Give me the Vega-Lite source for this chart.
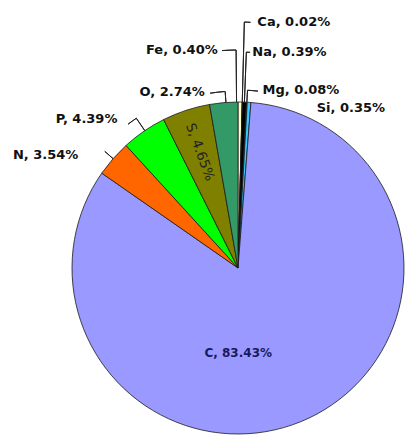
{
  "$schema": "https://vega.github.io/schema/vega-lite/v6.json",
  "width": 332,
  "height": 332,
  "autosize": "none",
  "padding": {"left": 72, "top": 102, "right": 1, "bottom": 3},
  "background": "white",
  "config": {"view": {"stroke": null}},
  "data": {
    "values": [
      {"el": "Fe", "pct": 0.40, "label": "Fe, 0.40%", "k": 1},
      {"el": "Ca", "pct": 0.02, "label": "Ca, 0.02%", "k": 2},
      {"el": "Na", "pct": 0.39, "label": "Na, 0.39%", "k": 3},
      {"el": "Mg", "pct": 0.08, "label": "Mg, 0.08%", "k": 4},
      {"el": "Si", "pct": 0.35, "label": "Si, 0.35%", "k": 5},
      {"el": "C", "pct": 83.43, "label": "C, 83.43%", "k": 6},
      {"el": "N", "pct": 3.54, "label": "N, 3.54%", "k": 7},
      {"el": "P", "pct": 4.39, "label": "P, 4.39%", "k": 8},
      {"el": "S", "pct": 4.65, "label": "S, 4.65%", "k": 9},
      {"el": "O", "pct": 2.74, "label": "O, 2.74%", "k": 10}
    ]
  },
  "layer": [
    {
      "mark": {"type": "arc", "stroke": "#1a1a1a", "strokeWidth": 0.8},
      "encoding": {
        "theta": {"field": "pct", "type": "quantitative", "stack": true},
        "order": {"field": "k", "type": "quantitative"},
        "color": {
          "field": "el",
          "type": "nominal",
          "legend": null,
          "scale": {
            "domain": ["Fe", "Ca", "Na", "Mg", "Si", "C", "N", "P", "S", "O"],
            "range": ["#ffffcc", "#ff6600", "#000000", "#660066", "#33ccff", "#9999ff", "#ff6600", "#00ff00", "#808000", "#339966"]
          }
        }
      }
    },
    {
      "transform": [{"stack": "pct", "groupby": [], "sort": [{"field": "k", "order": "ascending"}], "as": ["a0", "a1"]}],
      "layer": [
        {"mark": {"type": "arc", "fillOpacity": 0, "stroke": "#222", "strokeWidth": 1, "radius": 246, "radius2": 166, "thetaOffset": 0.00063, "theta2Offset": -0.00063},
         "encoding": {"strokeOpacity": {"condition": {"test": "datum.el == 'Ca'", "value": 1}, "value": 0}}},
        {"mark": {"type": "arc", "fillOpacity": 0, "stroke": "#222", "strokeWidth": 1, "radius": 246, "radius2": 246, "thetaOffset": 0.00063, "theta2Offset": 0.02423},
         "encoding": {"strokeOpacity": {"condition": {"test": "datum.el == 'Ca'", "value": 1}, "value": 0}}},
        {"mark": {"type": "arc", "fillOpacity": 0, "stroke": "#222", "strokeWidth": 1, "radius": 216, "radius2": 166, "thetaOffset": 0.01225, "theta2Offset": -0.01225},
         "encoding": {"strokeOpacity": {"condition": {"test": "datum.el == 'Na'", "value": 1}, "value": 0}}},
        {"mark": {"type": "arc", "fillOpacity": 0, "stroke": "#222", "strokeWidth": 1, "radius": 216, "radius2": 216, "thetaOffset": 0.01225, "theta2Offset": 0.00496},
         "encoding": {"strokeOpacity": {"condition": {"test": "datum.el == 'Na'", "value": 1}, "value": 0}}},
        {"mark": {"type": "arc", "fillOpacity": 0, "stroke": "#222", "strokeWidth": 1, "radius": 218, "radius2": 166, "thetaOffset": -0.00873, "theta2Offset": -0.03386},
         "encoding": {"strokeOpacity": {"condition": {"test": "datum.el == 'Fe'", "value": 1}, "value": 0}}},
        {"mark": {"type": "arc", "fillOpacity": 0, "stroke": "#222", "strokeWidth": 1, "radius": 218, "radius2": 218, "thetaOffset": -0.0733, "theta2Offset": -0.03386},
         "encoding": {"strokeOpacity": {"condition": {"test": "datum.el == 'Fe'", "value": 1}, "value": 0}}},
        {"mark": {"type": "arc", "fillOpacity": 0, "stroke": "#222", "strokeWidth": 1, "radius": 178, "radius2": 166, "thetaOffset": 0.00251, "theta2Offset": -0.00251},
         "encoding": {"strokeOpacity": {"condition": {"test": "datum.el == 'Mg'", "value": 1}, "value": 0}}},
        {"mark": {"type": "arc", "fillOpacity": 0, "stroke": "#222", "strokeWidth": 1, "radius": 178, "radius2": 178, "thetaOffset": 0.00251, "theta2Offset": 0.05665},
         "encoding": {"strokeOpacity": {"condition": {"test": "datum.el == 'Mg'", "value": 1}, "value": 0}}},
        {"mark": {"type": "arc", "fillOpacity": 0, "stroke": "#222", "strokeWidth": 1, "radius": 177, "radius2": 166, "thetaOffset": 0.09948, "theta2Offset": -0.07268},
         "encoding": {"strokeOpacity": {"condition": {"test": "datum.el == 'O'", "value": 1}, "value": 0}}},
        {"mark": {"type": "arc", "fillOpacity": 0, "stroke": "#222", "strokeWidth": 1, "radius": 177, "radius2": 177, "thetaOffset": 0.01396, "theta2Offset": -0.07268},
         "encoding": {"strokeOpacity": {"condition": {"test": "datum.el == 'O'", "value": 1}, "value": 0}}},
        {"mark": {"type": "arc", "fillOpacity": 0, "stroke": "#222", "strokeWidth": 1, "radius": 181, "radius2": 166, "thetaOffset": 0.14388, "theta2Offset": -0.13195},
         "encoding": {"strokeOpacity": {"condition": {"test": "datum.el == 'P'", "value": 1}, "value": 0}}},
        {"mark": {"type": "arc", "fillOpacity": 0, "stroke": "#222", "strokeWidth": 1, "radius": 181, "radius2": 181, "thetaOffset": 0.08803, "theta2Offset": -0.13195},
         "encoding": {"strokeOpacity": {"condition": {"test": "datum.el == 'P'", "value": 1}, "value": 0}}},
        {"mark": {"type": "arc", "fillOpacity": 0, "stroke": "#222", "strokeWidth": 1, "radius": 177, "radius2": 166, "thetaOffset": 0.1108, "theta2Offset": -0.11143},
         "encoding": {"strokeOpacity": {"condition": {"test": "datum.el == 'N'", "value": 1}, "value": 0}}}
      ],
      "encoding": {
        "theta": {"field": "a0", "type": "quantitative"},
        "theta2": {"field": "a1"}
      }
    },
    {
      "encoding": {
        "theta": {"field": "pct", "type": "quantitative", "stack": true},
        "order": {"field": "k", "type": "quantitative"}
      },
      "layer": [
        {
          "mark": {"type": "text", "radius": 218, "dx": -23, "align": "right", "baseline": "middle", "font": "DejaVu Sans", "fontWeight": "bold", "fontSize": 13, "fill": "#111"},
          "encoding": {"text": {"condition": {"test": "datum.el == 'Fe'", "field": "label"}, "value": ""}}
        },
        {
          "mark": {"type": "text", "radius": 246, "dx": 13, "align": "left", "baseline": "middle", "font": "DejaVu Sans", "fontWeight": "bold", "fontSize": 13, "fill": "#111"},
          "encoding": {"text": {"condition": {"test": "datum.el == 'Ca'", "field": "label"}, "value": ""}}
        },
        {
          "mark": {"type": "text", "radius": 216, "dx": 6, "align": "left", "baseline": "middle", "font": "DejaVu Sans", "fontWeight": "bold", "fontSize": 13, "fill": "#111"},
          "encoding": {"text": {"condition": {"test": "datum.el == 'Na'", "field": "label"}, "value": ""}}
        },
        {
          "mark": {"type": "text", "radius": 178, "dx": 15, "align": "left", "baseline": "middle", "font": "DejaVu Sans", "fontWeight": "bold", "fontSize": 13, "fill": "#111"},
          "encoding": {"text": {"condition": {"test": "datum.el == 'Mg'", "field": "label"}, "value": ""}}
        },
        {
          "mark": {"type": "text", "radius": 160, "dx": 68, "align": "left", "baseline": "middle", "font": "DejaVu Sans", "fontWeight": "bold", "fontSize": 13, "fill": "#111"},
          "encoding": {"text": {"condition": {"test": "datum.el == 'Si'", "field": "label"}, "value": ""}}
        },
        {
          "mark": {"type": "text", "radius": 177, "dx": -18, "align": "right", "baseline": "middle", "font": "DejaVu Sans", "fontWeight": "bold", "fontSize": 13, "fill": "#111"},
          "encoding": {"text": {"condition": {"test": "datum.el == 'O'", "field": "label"}, "value": ""}}
        },
        {
          "mark": {"type": "text", "radius": 181, "dx": -18, "align": "right", "baseline": "middle", "font": "DejaVu Sans", "fontWeight": "bold", "fontSize": 13, "fill": "#111"},
          "encoding": {"text": {"condition": {"test": "datum.el == 'P'", "field": "label"}, "value": ""}}
        },
        {
          "mark": {"type": "text", "radius": 171, "dx": -31, "align": "right", "baseline": "middle", "font": "DejaVu Sans", "fontWeight": "bold", "fontSize": 13, "fill": "#111"},
          "encoding": {"text": {"condition": {"test": "datum.el == 'N'", "field": "label"}, "value": ""}}
        },
        {
          "mark": {"type": "text", "radius": 122, "angle": 70, "align": "center", "baseline": "middle", "font": "DejaVu Sans", "fontWeight": "normal", "fontSize": 13.5, "fill": "#222"},
          "encoding": {"text": {"condition": {"test": "datum.el == 'S'", "field": "label"}, "value": ""}}
        },
        {
          "mark": {"type": "text", "radius": 94, "dx": -40, "align": "center", "baseline": "middle", "font": "DejaVu Sans", "fontWeight": "bold", "fontSize": 12, "fill": "#1a1a5c"},
          "encoding": {"text": {"condition": {"test": "datum.el == 'C'", "field": "label"}, "value": ""}}
        }
      ]
    }
  ]
}
